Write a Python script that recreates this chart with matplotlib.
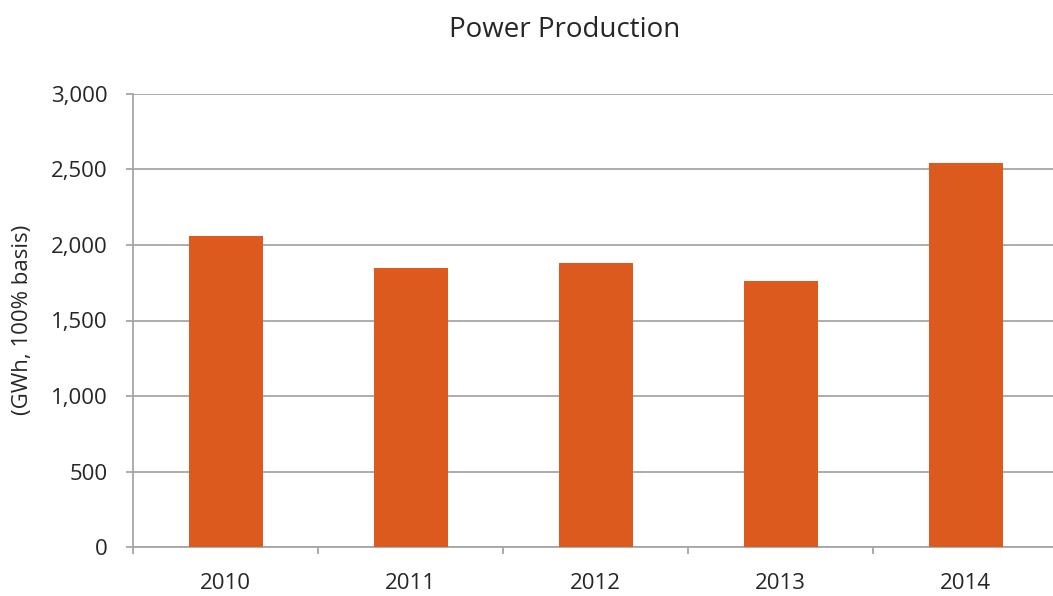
import matplotlib
matplotlib.use("Agg")
import matplotlib.pyplot as plt
from matplotlib.ticker import FuncFormatter, FixedLocator

years = ["2010", "2011", "2012", "2013", "2014"]
production_gwh = [2062, 1849, 1880, 1762, 2544]
y_ticks = [0, 500, 1000, 1500, 2000, 2500, 3000]

bar_color = "#dc5a1e"
grid_color = "#a6a6a6"
text_color = "#262626"

plt.rcParams["font.family"] = ["Open Sans", "DejaVu Sans"]

fig = plt.figure(figsize=(10.53, 5.96), dpi=100)
ax = fig.add_axes([133 / 1053, 49 / 596, 925 / 1053, 453 / 596])

x = list(range(len(years)))
ax.bar(x, production_gwh, width=0.4, color=bar_color, zorder=3)

ax.set_xlim(-0.5, len(years) - 0.5)
ax.set_ylim(0, 3000)
ax.set_yticks(y_ticks)
ax.yaxis.set_major_formatter(FuncFormatter(lambda v, p: f"{int(v):,}"))
ax.grid(axis="y", color=grid_color, lw=1.3, zorder=0)

# category labels centred, tick marks at the boundaries
ax.set_xticks(x)
ax.set_xticklabels(years)
ax.xaxis.set_minor_locator(FixedLocator([i - 0.5 for i in range(len(years) + 1)]))
ax.tick_params(axis="x", which="major", length=0, pad=19, labelsize=16, labelcolor=text_color)
ax.tick_params(axis="x", which="minor", length=5, width=1.3, color=grid_color)
ax.tick_params(axis="y", length=5, width=1.3, color=grid_color, pad=13,
               labelsize=16, labelcolor=text_color)

for side in ("top", "right"):
    ax.spines[side].set_visible(False)
for side in ("left", "bottom"):
    ax.spines[side].set_color(grid_color)
    ax.spines[side].set_linewidth(1.3)

fig.text(565 / 1053, 1 - 37 / 596, "Power Production", ha="center", va="baseline",
         fontsize=20, color=text_color)
fig.text(23 / 1053, 1 - 320 / 596, "(GWh, 100% basis)", ha="center", va="center",
         rotation=90, fontsize=16, color=text_color)

fig.savefig("out.png", dpi=100)
